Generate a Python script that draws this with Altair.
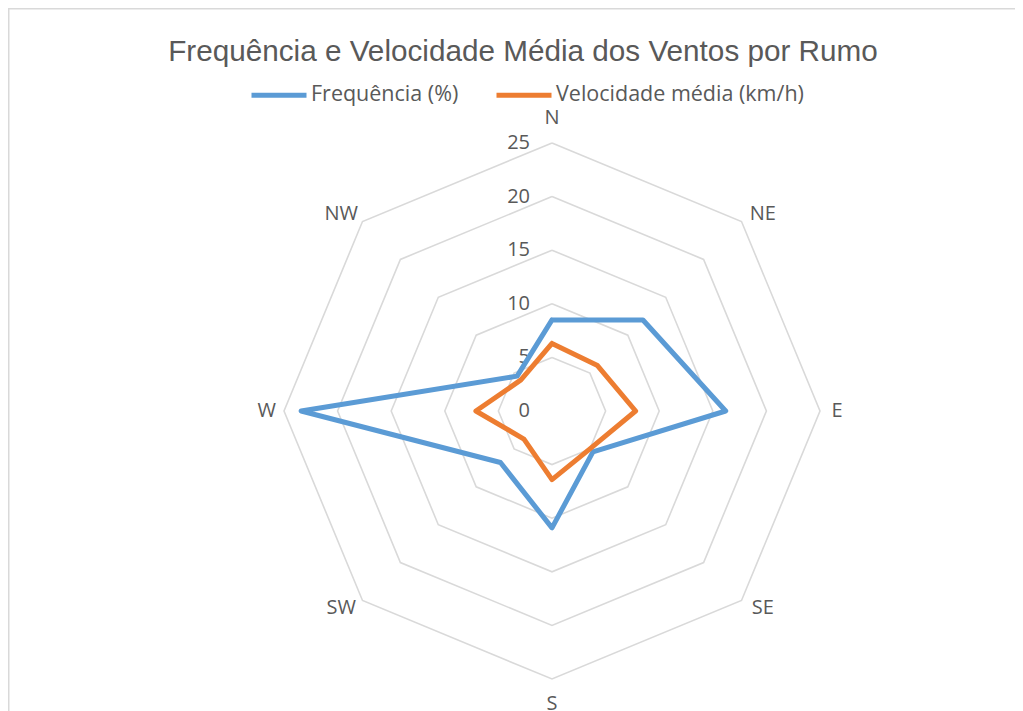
import math
import altair as alt
import pandas as pd

# ---- data ----
directions = ["N", "NE", "E", "SE", "S", "SW", "W", "NW"]
frequencia = [8.5, 12.0, 16.2, 5.4, 10.9, 6.8, 23.4, 4.6]
velocidade = [6.3, 6.0, 7.8, 5.0, 6.4, 3.7, 7.1, 4.1]
series_names = ["Frequência (%)", "Velocidade média (km/h)"]
ring_levels = [5, 10, 15, 20, 25]
tick_levels = [0, 5, 10, 15, 20, 25]
title_text = "Frequência e Velocidade Média dos Ventos por Rumo"

# ---- layout ----
W, H = 1007, 703
CX, CY = 544, 403          # centre of the radar in view pixels
K = 268 / 25               # pixels per unit
xs = alt.Scale(domain=[-CX / K, (W - CX) / K], nice=False, zero=False)
ys = alt.Scale(domain=[-(H - CY) / K, CY / K], nice=False, zero=False)
GRAY = "#595959"
FONT = "Open Sans"

rows = []
for s, vals in zip(series_names, [frequencia, velocidade]):
    for i in range(len(directions) + 1):
        rows.append({"series": s, "idx": i, "value": vals[i % len(directions)]})
series_df = pd.DataFrame(rows)

grid_df = pd.DataFrame(
    [{"level": lv, "idx": i} for lv in ring_levels for i in range(len(directions) + 1)]
)
tick_df = pd.DataFrame({"level": tick_levels})
dir_df = pd.DataFrame({"dir": directions, "idx": list(range(len(directions)))})
title_df = pd.DataFrame({"t": [title_text]})
one = pd.DataFrame({"a": [0]})

grid = (
    alt.Chart(grid_df)
    .transform_calculate(a="datum.idx * PI / 4")
    .transform_calculate(px="datum.level * sin(datum.a)", py="datum.level * cos(datum.a)")
    .mark_line(color="#D9D9D9", strokeWidth=1.6)
    .encode(
        x=alt.X("px:Q", scale=xs, axis=None),
        y=alt.Y("py:Q", scale=ys, axis=None),
        detail="level:N",
        order="idx:Q",
    )
)

ticks = (
    alt.Chart(tick_df)
    .transform_calculate(px="0", py="datum.level")
    .mark_text(align="right", baseline="middle", dx=-22, fontSize=20, font=FONT, color=GRAY)
    .encode(
        x=alt.X("px:Q", scale=xs, axis=None),
        y=alt.Y("py:Q", scale=ys, axis=None),
        text="level:Q",
    )
)

dirs = (
    alt.Chart(dir_df)
    .transform_calculate(a="datum.idx * PI / 4")
    .transform_calculate(
        px="sin(datum.a) * (26.6 + 1.2 * abs(sin(2 * datum.a)))",
        py="cos(datum.a) * (27.3 - 1.3 * abs(sin(2 * datum.a)))",
    )
    .mark_text(align="center", baseline="middle", fontSize=20, font=FONT, color=GRAY)
    .encode(
        x=alt.X("px:Q", scale=xs, axis=None),
        y=alt.Y("py:Q", scale=ys, axis=None),
        text="dir:N",
    )
)

lines = (
    alt.Chart(series_df)
    .transform_calculate(a="datum.idx * PI / 4")
    .transform_calculate(px="datum.value * sin(datum.a)", py="datum.value * cos(datum.a)")
    .mark_line(strokeWidth=5, strokeJoin="round", strokeCap="round")
    .encode(
        x=alt.X("px:Q", scale=xs, axis=None),
        y=alt.Y("py:Q", scale=ys, axis=None),
        color=alt.Color(
            "series:N",
            scale=alt.Scale(domain=series_names, range=["#5B9BD5", "#ED7D31"]),
            legend=alt.Legend(
                title=None,
                orient="none",
                legendX=241,
                legendY=57,
                direction="horizontal",
                symbolType="stroke",
                symbolStrokeWidth=5,
                symbolSize=3025,
                labelFont=FONT,
                labelFontSize=21.5,
                labelColor=GRAY,
                labelOffset=2,
                columnPadding=27,
                labelLimit=400,
            ),
        ),
        order="idx:Q",
    )
)

title = (
    alt.Chart(title_df)
    .mark_text(align="center", baseline="middle", fontSize=29.7, font="Liberation Sans", color=GRAY)
    .encode(text="t:N", x=alt.value(515), y=alt.value(44))
)

border_top = (
    alt.Chart(one)
    .mark_rule(color="#D9D9D9", strokeWidth=1.5)
    .encode(x=alt.value(0), x2=alt.value(W), y=alt.value(0.75))
)
border_left = (
    alt.Chart(one)
    .mark_rule(color="#D9D9D9", strokeWidth=1.5)
    .encode(x=alt.value(0.75), y=alt.value(0), y2=alt.value(H))
)

chart = (
    alt.layer(border_top, border_left, grid, ticks, dirs, lines, title)
    .properties(width=W, height=H, padding=0, autosize=alt.AutoSizeParams(type="none"))
    .configure_view(stroke=None)
    .configure(background="white")
)

chart.save("out.html", embed_options={"renderer": "svg", "actions": False})
